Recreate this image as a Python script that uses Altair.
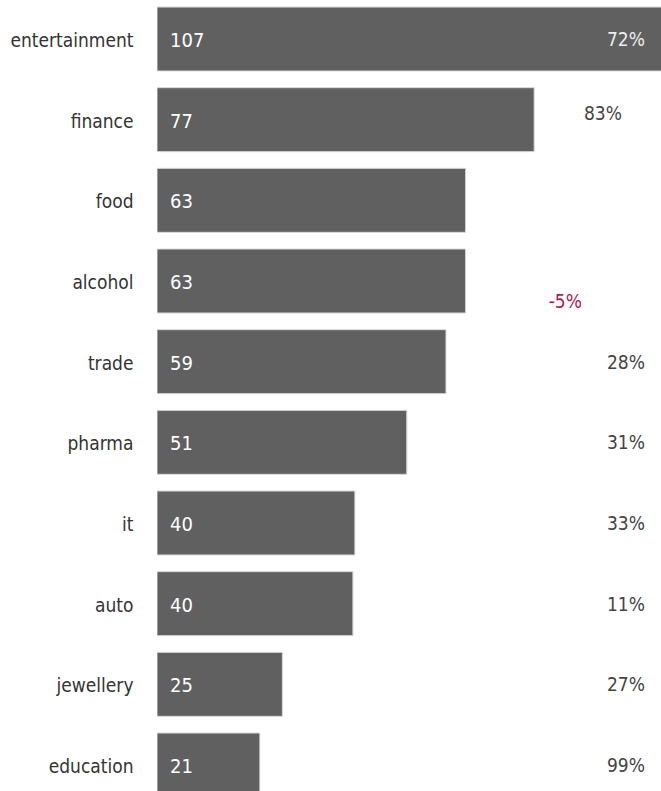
import altair as alt
import pandas as pd

categories = ["entertainment", "finance", "food", "alcohol", "trade", "pharma", "it", "auto", "jewellery", "education"]
values = [107, 77, 63, 63, 59, 51, 40.4, 40, 25.6, 21]
value_labels = ["107", "77", "63", "63", "59", "51", "40", "40", "25", "21"]
pct_labels = ["72%", "83%", "", "-5%", "28%", "31%", "33%", "11%", "27%", "99%"]

df = pd.DataFrame({
    "category": categories,
    "value": values,
    "vlabel": value_labels,
    "plabel": pct_labels,
})

FONT = "DejaVu Sans Condensed"

y_enc = alt.Y(
    "category:N",
    sort=categories,
    scale=alt.Scale(range=[0, 804], paddingInner=0.207, paddingOuter=0.087),
    axis=alt.Axis(
        title=None, ticks=False, domain=False, grid=False, labelPadding=24,
        labelFont=FONT, labelFontSize=19, labelColor="#333333", labelOffset=2,
    ),
)
y_plain = alt.Y("category:N", sort=categories)

base = alt.Chart(df)

bars = base.mark_bar(color="#606060", stroke="#d8d8d8", strokeWidth=1, clip=True).encode(
    x=alt.X("value:Q", scale=alt.Scale(domain=[0, 102.9], nice=False), axis=None),
    y=y_enc,
)

vtext = base.mark_text(align="left", baseline="middle", font=FONT, fontSize=20, color="white", dy=2).encode(
    x=alt.value(13),
    y=y_plain,
    text="vlabel:N",
)

first = base.transform_filter(alt.datum.category == "entertainment").mark_text(
    align="right", baseline="middle", font=FONT, fontSize=19, color="#eeeeee", dy=1
).encode(
    x=alt.value(488),
    y=y_plain,
    text="plabel:N",
)

normal = base.transform_filter(
    (alt.datum.category != "finance") & (alt.datum.category != "alcohol")
    & (alt.datum.category != "food") & (alt.datum.category != "entertainment")
).mark_text(align="right", baseline="middle", font=FONT, fontSize=19, color="#444444", dy=1).encode(
    x=alt.value(488),
    y=y_plain,
    text="plabel:N",
)

fin = base.transform_filter(alt.datum.category == "finance").mark_text(
    align="right", baseline="middle", font=FONT, fontSize=19, color="#444444", dy=-6
).encode(
    x=alt.value(465),
    y=y_plain,
    text="plabel:N",
)

alc = base.transform_filter(alt.datum.category == "alcohol").mark_text(
    align="right", baseline="middle", font=FONT, fontSize=19, color="#b8174a", dy=21
).encode(
    x=alt.value(425),
    y=y_plain,
    text="plabel:N",
)

chart = alt.layer(bars, vtext, first, normal, fin, alc).properties(
    width=504,
    height=791,
    autosize=alt.AutoSizeParams(type="none"),
    padding={"left": 157, "top": 0, "right": 0, "bottom": 0},
).configure(background="white").configure_view(stroke=None, strokeWidth=0)

chart.save("out.html", embed_options={"renderer": "svg", "actions": False})
